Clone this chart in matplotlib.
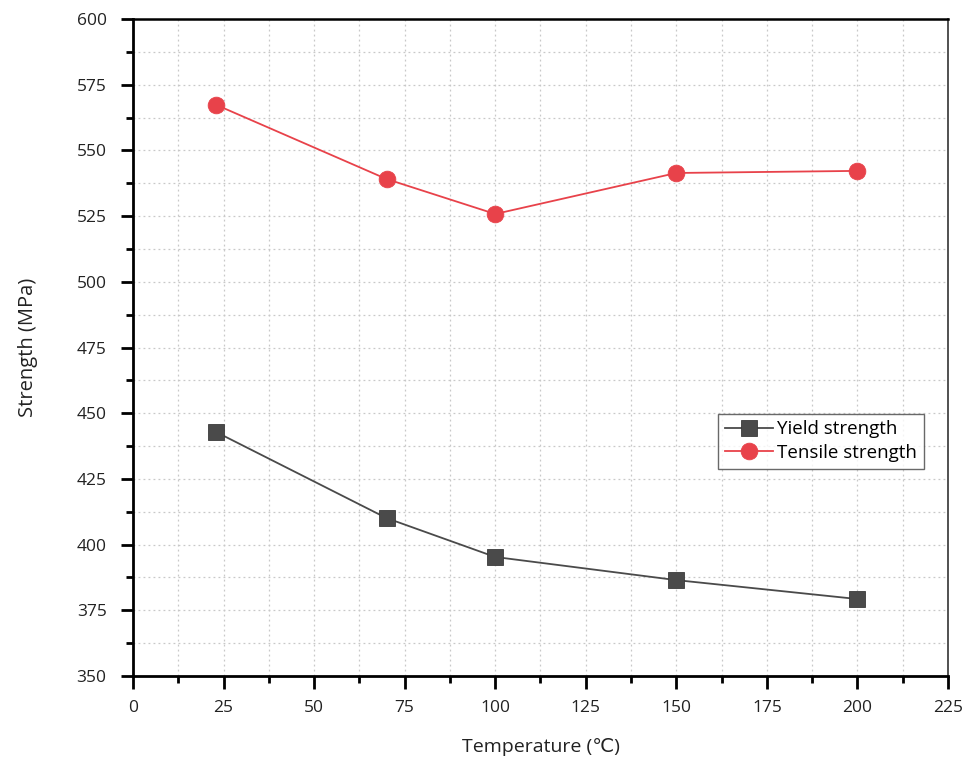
import matplotlib
matplotlib.use("Agg")
import matplotlib.pyplot as plt
from matplotlib.ticker import MultipleLocator

plt.rcParams['font.family'] = ['Open Sans', 'DejaVu Sans']

temperature = [23, 70, 100, 150, 200]
yield_strength = [442.8, 410.1, 395.3, 386.5, 379.3]
tensile_strength = [567.3, 539.1, 525.8, 541.4, 542.2]

fig = plt.figure(figsize=(9.68, 7.65), dpi=100)
ax = fig.add_axes([0.1374, 0.1163, 0.8419, 0.8589])

ax.plot(temperature, yield_strength, color='#4a4a4a', lw=1.3, marker='s',
        markersize=11.5, markeredgecolor='#3a3a3a', markeredgewidth=0.6,
        label='Yield strength', zorder=3)
ax.plot(temperature, tensile_strength, color='#e8424a', lw=1.3, marker='o',
        markersize=12, markeredgecolor='#e8424a', markeredgewidth=0.6,
        label='Tensile strength', zorder=3)

ax.set_xlim(0, 225)
ax.set_ylim(350, 600)
ax.xaxis.set_major_locator(MultipleLocator(25))
ax.xaxis.set_minor_locator(MultipleLocator(12.5))
ax.yaxis.set_major_locator(MultipleLocator(25))
ax.yaxis.set_minor_locator(MultipleLocator(12.5))

ax.grid(True, which='both', color='#c8c8c8', linestyle=(0, (1.5, 2.5)), lw=0.9)
ax.set_axisbelow(True)

for side in ('left', 'bottom'):
    ax.spines[side].set_linewidth(2.0)
    ax.spines[side].set_color('black')
ax.spines['top'].set_linewidth(1.8)
ax.spines['top'].set_color('black')
ax.spines['right'].set_linewidth(1.2)
ax.spines['right'].set_color('#333333')

ax.tick_params(which='major', direction='out', length=9, width=2, labelsize=12.5,
               colors='black', labelcolor='#222222')
ax.tick_params(which='minor', direction='out', length=5, width=2, colors='black')
ax.tick_params(axis='x', which='major', pad=8)
ax.tick_params(axis='y', which='major', pad=10)
ax.tick_params(top=False, right=False, which='both')

ax.set_xlabel('Temperature (℃)', fontsize=14, color='#222222')
ax.set_ylabel('Strength (MPa)', fontsize=14.5, color='#222222')
ax.xaxis.set_label_coords(0.5, -0.094)
ax.yaxis.set_label_coords(-0.117, 0.5)

leg = ax.legend(loc='upper left', bbox_to_anchor=(0.718, 0.399), fontsize=13.5,
                frameon=True, fancybox=False, edgecolor='#444444',
                borderpad=0.35, labelspacing=0.3, handlelength=2.6,
                handletextpad=0.2, borderaxespad=0)
leg.get_frame().set_linewidth(1.0)

fig.savefig('out.png', dpi=100)
